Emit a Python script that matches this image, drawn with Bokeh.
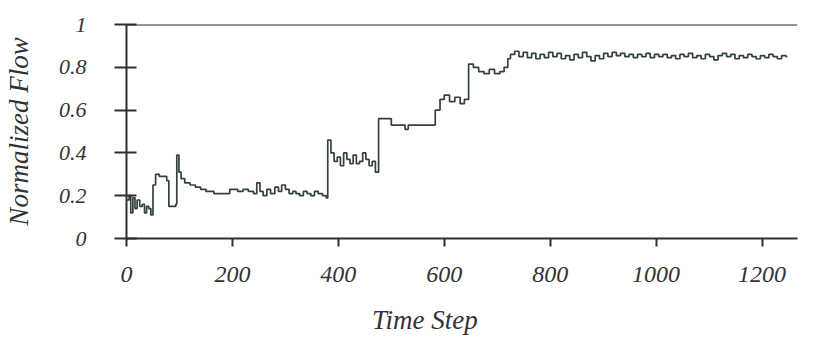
from bokeh.plotting import figure
from bokeh.models import Range1d, FixedTicker, Span
from bokeh.embed import file_html
from bokeh.resources import INLINE

# ---- data ----
time_step = [0, 5, 8, 12, 16, 20, 25, 30, 34, 38, 42, 46, 50, 55, 62, 76, 80, 93, 95, 99,
             103, 110, 120, 130, 140, 150, 165, 180, 195, 210, 220, 230, 240, 246, 252,
             258, 265, 272, 280, 287, 293, 300, 307, 314, 320, 327, 334, 341, 348, 355,
             362, 370, 377, 380, 386, 392, 398, 404, 410, 416, 422, 428, 434, 440, 446,
             452, 458, 464, 470, 476, 500, 520, 526, 532, 560, 578, 583, 592, 600, 610,
             620, 630, 638, 646, 655, 665, 675, 685, 695, 705, 713, 720,
             725, 733, 741, 749, 757, 765, 773, 781, 789, 797, 805, 813, 821, 829, 837,
             845, 853, 861, 869, 877, 885, 893, 901, 909, 917, 925, 933, 941, 949, 957,
             965, 973, 981, 989, 997, 1005, 1013, 1021, 1029, 1037, 1045, 1053, 1061,
             1069, 1077, 1085, 1093, 1101, 1109, 1117, 1125, 1133, 1141, 1149, 1157,
             1165, 1173, 1181, 1189, 1197, 1205, 1213, 1221, 1229, 1237, 1245, 1248]
flow = [0.18, 0.20, 0.12, 0.19, 0.14, 0.18, 0.15, 0.16, 0.12, 0.15, 0.14, 0.11, 0.25, 0.30,
        0.29, 0.27, 0.15, 0.16, 0.39, 0.31, 0.28, 0.26, 0.25, 0.24, 0.23, 0.22, 0.21, 0.21,
        0.23, 0.22, 0.23, 0.22, 0.21, 0.26, 0.22, 0.20, 0.23, 0.21, 0.24, 0.22, 0.25, 0.23,
        0.21, 0.22, 0.21, 0.20, 0.22, 0.21, 0.20, 0.22, 0.21, 0.20, 0.19, 0.46, 0.40, 0.36,
        0.38, 0.34, 0.40, 0.37, 0.35, 0.39, 0.35, 0.36, 0.40, 0.37, 0.34, 0.36, 0.31, 0.56,
        0.53, 0.53, 0.51, 0.53, 0.53, 0.53, 0.60, 0.65, 0.67, 0.64, 0.66, 0.63, 0.65, 0.815,
        0.80, 0.78, 0.77, 0.79, 0.77, 0.78, 0.80, 0.84,
        0.86, 0.875, 0.85, 0.87, 0.845, 0.865, 0.84, 0.86, 0.845, 0.87, 0.85, 0.865, 0.84,
        0.855, 0.835, 0.86, 0.845, 0.87, 0.85, 0.83, 0.855, 0.84, 0.865, 0.85, 0.87, 0.855,
        0.865, 0.85, 0.86, 0.845, 0.86, 0.85, 0.865, 0.845, 0.86, 0.85, 0.86, 0.845, 0.855,
        0.84, 0.86, 0.85, 0.865, 0.845, 0.855, 0.84, 0.86, 0.85, 0.835, 0.855, 0.865, 0.85,
        0.86, 0.84, 0.855, 0.845, 0.86, 0.85, 0.84, 0.855, 0.845, 0.86, 0.85, 0.84, 0.855,
        0.85, 0.85]

x_ticks = [0, 200, 400, 600, 800, 1000, 1200]
y_ticks = [0, 0.2, 0.4, 0.6, 0.8, 1]
y_tick_labels = {0: "0", 0.2: "0.2", 0.4: "0.4", 0.6: "0.6", 0.8: "0.8", 1: "1"}
x_title = "Time Step"
y_title = "Normalized Flow"

FONT = "Liberation Serif"
INK = "#2f2f2f"
LINE = "#34413f"

p = figure(width=803, height=338, output_backend="svg", toolbar_location=None,
           x_range=Range1d(0, 1267), y_range=Range1d(0, 1),
           min_border_left=117, min_border_right=6, min_border_top=24,
           min_border_bottom=100)
p.outline_line_alpha = 0
p.grid.visible = False
p.background_fill_color = "white"

p.step(time_step, flow, mode="after", line_color=LINE, line_width=1.7)

# top frame line
p.add_layout(Span(location=1, dimension="width", line_color=INK, line_width=2))

# x axis
xa = p.xaxis[0]
xa.ticker = FixedTicker(ticks=x_ticks)
xa.minor_tick_line_alpha = 0
xa.major_tick_in = 0
xa.major_tick_out = 8
xa.major_tick_line_width = 2
xa.major_tick_line_color = INK
xa.axis_line_color = INK
xa.axis_line_width = 2
xa.major_label_text_font = FONT
xa.major_label_text_font_style = "italic"
xa.major_label_text_font_size = "24px"
xa.major_label_text_color = "#333333"
xa.major_label_standoff = 20
# trailing no-break spaces shift the centred title left, as in the picture
xa.axis_label = x_title + "\u00a0" * 11
xa.axis_label_text_font = FONT
xa.axis_label_text_font_style = "italic"
xa.axis_label_text_font_size = "27px"
xa.axis_label_text_color = "#333333"
xa.axis_label_standoff = 20

# y axis
ya = p.yaxis[0]
ya.ticker = FixedTicker(ticks=y_ticks)
ya.major_label_overrides = y_tick_labels
ya.minor_tick_line_alpha = 0
ya.major_tick_in = 10
ya.major_tick_out = 12
ya.major_tick_line_width = 2
ya.major_tick_line_color = INK
ya.axis_line_color = INK
ya.axis_line_width = 2
ya.major_label_text_font = FONT
ya.major_label_text_font_style = "italic"
ya.major_label_text_font_size = "22px"
ya.major_label_text_color = "#333333"
ya.major_label_standoff = 28
ya.axis_label = y_title
ya.axis_label_text_font = FONT
ya.axis_label_text_font_style = "italic"
ya.axis_label_text_font_size = "27px"
ya.axis_label_text_color = "#333333"
ya.axis_label_standoff = 22

open("out.html", "w").write(file_html(p, INLINE))
